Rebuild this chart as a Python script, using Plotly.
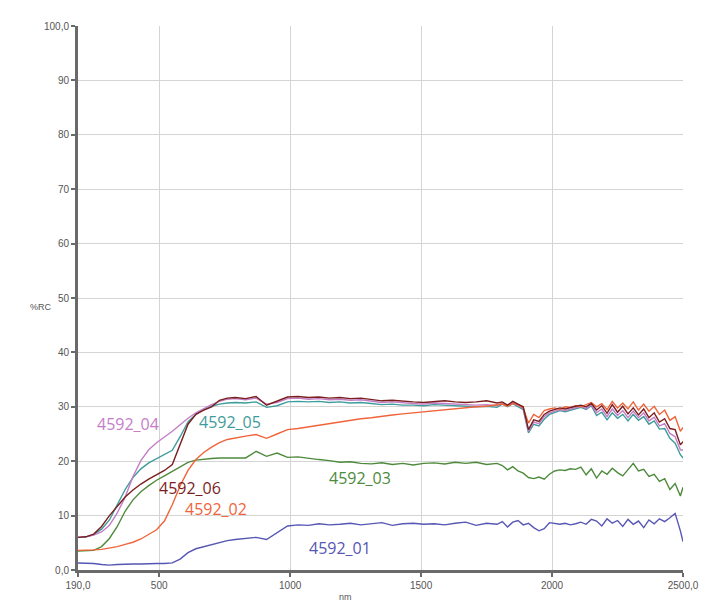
import plotly.graph_objects as go

wavelength = [190, 220, 250, 280, 310, 340, 370, 400, 430, 460, 490, 520, 550, 580, 610, 640, 670, 700, 730, 760, 790,
              830, 870, 910, 950, 990, 1030, 1070, 1110, 1150, 1190, 1230, 1270, 1310, 1350, 1390, 1430, 1470, 1510, 1550,
              1590, 1630, 1670, 1710, 1750, 1790,
              1810, 1830, 1850, 1870, 1890, 1910, 1930, 1950, 1970, 1990, 2010, 2030, 2050, 2070, 2090, 2110, 2130, 2150,
              2170, 2190, 2210, 2230, 2250, 2270, 2290, 2310, 2330, 2350, 2370, 2390, 2410, 2430, 2450, 2470, 2490, 2500]

s4592_01 = [1.3, 1.3, 1.2, 1.0, 0.9, 1.0, 1.1, 1.1, 1.1, 1.2, 1.2, 1.2, 1.3, 2.0, 3.2, 3.9, 4.3, 4.7, 5.1, 5.4, 5.6,
            5.8, 6.0, 5.6, 6.8, 8.1, 8.3, 8.2, 8.5, 8.3, 8.4, 8.6, 8.3, 8.5, 8.7, 8.2, 8.5, 8.6, 8.4, 8.5,
            8.3, 8.6, 8.8, 8.2, 8.6, 8.4,
            8.9, 7.9, 8.8, 9.1, 8.3, 8.6, 7.8, 7.2, 7.6, 8.7, 8.5, 8.4, 8.6, 8.3, 8.5, 8.8, 8.4, 9.3,
            9.0, 8.1, 9.4, 8.6, 9.1, 8.0, 9.3, 8.4, 9.0, 7.8, 9.2, 8.5, 9.4, 8.9, 9.6, 10.4, 7.2, 5.2]

s4592_02 = [3.6, 3.6, 3.7, 3.8, 4.0, 4.3, 4.7, 5.1, 5.7, 6.5, 7.4, 9.0, 12.0, 15.5, 18.3, 20.3, 21.6, 22.6, 23.4, 24.0, 24.3,
            24.6, 24.9, 24.2, 25.0, 25.8, 26.0, 26.3, 26.6, 27.0, 27.2, 27.5, 27.8, 28.0, 28.3, 28.5, 28.7, 28.9, 29.1, 29.3,
            29.5, 29.6, 29.8, 30.0, 30.1, 30.3,
            30.5, 30.1, 30.6, 30.4, 29.8, 27.0, 28.6, 28.0, 29.3, 29.6, 29.8, 29.5, 30.0, 29.9, 30.2, 30.0, 30.4, 30.8,
            30.0, 30.6, 29.5, 31.0, 29.8, 30.7, 29.6, 30.9, 29.4, 30.5, 29.2, 30.1, 28.6, 29.4, 27.5, 28.2, 25.5, 26.2]

s4592_03 = [3.5, 3.5, 3.6, 4.3, 5.8, 8.0, 10.8, 12.9, 14.4, 15.5, 16.5, 17.3, 18.1, 19.0, 19.8, 20.2, 20.4, 20.5, 20.6, 20.6, 20.5,
            20.6, 21.8, 20.9, 21.5, 20.7, 20.8, 20.5, 20.3, 20.1, 19.8, 19.9, 19.6, 19.5, 19.7, 19.4, 19.6, 19.3, 19.6, 19.7,
            19.5, 19.8, 19.6, 19.8, 19.4, 19.6,
            19.2, 18.4, 19.0, 18.2, 17.8, 17.0, 16.8, 17.1, 16.7, 17.6, 18.2, 18.4, 18.3, 18.6, 18.5, 18.9, 17.5, 18.6,
            16.9, 18.2, 17.6, 18.7, 17.9, 17.3, 18.4, 19.6, 18.2, 18.5, 17.2, 17.6, 16.3, 16.8, 14.8, 15.9, 13.6, 15.2]

s4592_04 = [6.0, 6.1, 6.4, 7.0, 8.2, 10.5, 13.4, 17.2, 20.1, 22.1, 23.4, 24.4, 25.5, 26.7, 27.9, 28.9, 29.7, 30.4, 31.0, 31.4, 31.5,
            31.3, 31.6, 30.5, 30.8, 31.5, 31.6, 31.4, 31.5, 31.3, 31.4, 31.2, 31.3, 31.0, 30.8, 30.9, 30.7, 30.6, 30.5, 30.7,
            30.6, 30.5, 30.4, 30.3, 30.4, 30.2,
            30.7, 30.1, 30.8, 30.3, 29.7, 25.5, 27.2, 26.9, 28.2, 28.9, 29.2, 29.5, 29.3, 29.6, 29.8, 30.1, 29.7, 30.4,
            28.9, 29.6, 28.2, 29.6, 28.4, 29.3, 28.0, 29.2, 28.0, 28.9, 27.4, 28.1, 26.5, 26.9, 25.1, 24.5, 22.1, 22.0]

s4592_05 = [6.0, 6.1, 6.5, 7.5, 9.2, 12.0, 14.8, 17.0, 18.6, 19.7, 20.5, 21.2, 22.0, 24.5, 27.2, 28.6, 29.5, 30.1, 30.5, 30.7, 30.8,
            30.7, 30.9, 29.9, 30.2, 30.9, 31.0, 30.9, 31.0, 30.8, 30.9, 30.7, 30.8, 30.6, 30.4, 30.5, 30.3, 30.3, 30.2, 30.4,
            30.3, 30.2, 30.1, 30.0, 30.1, 29.9,
            30.5, 30.0, 30.6, 30.1, 29.5, 25.2, 26.8, 26.5, 27.7, 28.6, 29.0, 29.3, 29.1, 29.4, 29.6, 29.9, 29.5, 30.2,
            28.4, 29.0, 27.6, 28.9, 27.9, 28.6, 27.4, 28.6, 27.5, 28.2, 26.8, 27.4, 25.9, 26.0, 24.2, 23.3, 21.2, 20.6]

s4592_06 = [6.0, 6.1, 6.6, 8.0, 10.0, 11.8, 13.4, 14.7, 15.8, 16.7, 17.5, 18.3, 19.4, 23.0, 26.8, 28.6, 29.4, 30.0, 31.2, 31.6, 31.7,
            31.5, 31.9, 30.3, 31.0, 31.8, 31.9, 31.7, 31.8, 31.6, 31.7, 31.5, 31.6, 31.3, 31.1, 31.2, 31.0, 30.9, 30.8, 31.0,
            31.1, 30.9, 30.8, 30.9, 31.1, 30.7,
            30.9, 30.3, 31.0, 30.5, 30.0, 25.8, 27.6, 27.3, 28.6, 29.2, 29.5, 29.8, 29.6, 29.9, 30.1, 30.3, 30.0, 30.6,
            29.4, 30.2, 28.8, 30.4, 29.0, 30.1, 28.7, 29.8, 28.5, 29.6, 28.0, 28.9, 27.2, 27.8, 26.0, 25.8, 23.0, 23.6]

series_names = ["4592_01", "4592_02", "4592_03", "4592_04", "4592_05", "4592_06"]
series_colors = ["#5656b4", "#f0643a", "#4e8a3c", "#c47ec6", "#3f9c9c", "#7a1f1f"]
label_x = [1190, 717, 1266, 381, 770, 617]
label_y = [4.0, 11.3, 17.0, 26.8, 27.2, 15.0]

y_ticks = [0, 10, 20, 30, 40, 50, 60, 70, 80, 90, 100]
y_tick_text = ["0,0", "10", "20", "30", "40", "50", "60", "70", "80", "90", "100,0"]
x_ticks = [190, 500, 1000, 1500, 2000, 2500]
x_tick_text = ["190,0", "500", "1000", "1500", "2000", "2500,0"]

all_series = [s4592_01, s4592_02, s4592_03, s4592_04, s4592_05, s4592_06]
draw_order = [2, 0, 4, 3, 1, 5]

# page body has an 8 px margin, so the figure sits at (8, 8)
off = 8
w, h = 713 - off, 608 - off
ml, mt = 78 - off, 22 - off
mr = w - (683 - off)
mb = h - (570 - off)
pw, ph = w - ml - mr, h - mt - mb

fig = go.Figure()
for i in draw_order:
    fig.add_trace(go.Scatter(x=wavelength, y=all_series[i], mode="lines", name=series_names[i],
                             line=dict(color=series_colors[i], width=1.4)))

for i in range(6):
    fig.add_annotation(x=label_x[i], y=label_y[i], text=series_names[i], showarrow=False,
                       font=dict(family="Open Sans, sans-serif", size=16, color=series_colors[i]))

fig.add_annotation(x=(28 - 78) / pw, y=(570 - 305) / ph, xref="paper", yref="paper", text="%RC",
                   showarrow=False, font=dict(family="Arial, Liberation Sans", size=9, color="#555"))
fig.add_annotation(x=(345 - 78) / pw, y=(570 - 604) / ph, xref="paper", yref="paper", text="nm",
                   showarrow=False, font=dict(family="Arial, Liberation Sans", size=9, color="#555"))

fig.update_layout(
    width=w, height=h, margin=dict(l=ml, r=mr, t=mt, b=mb),
    plot_bgcolor="white", paper_bgcolor="white", showlegend=False,
    font=dict(family="Arial, Liberation Sans", size=10, color="#555"),
)
fig.update_xaxes(range=[190, 2500], tickvals=x_ticks, ticktext=x_tick_text, showgrid=True,
                 gridcolor="#d4d4d4", gridwidth=1, showline=True, linecolor="#6a6a6a", linewidth=3,
                 ticks="outside", ticklen=4, tickwidth=2, tickcolor="#6a6a6a", zeroline=False,
                 tickfont=dict(size=10, color="#555"))
fig.update_yaxes(range=[0, 100], tickvals=y_ticks, ticktext=y_tick_text, showgrid=True,
                 gridcolor="#d4d4d4", gridwidth=1, showline=True, linecolor="#6a6a6a", linewidth=3,
                 ticks="outside", ticklen=4, tickwidth=2, tickcolor="#6a6a6a", zeroline=False,
                 tickfont=dict(size=10, color="#555"))

fig.write_html("out.html")
